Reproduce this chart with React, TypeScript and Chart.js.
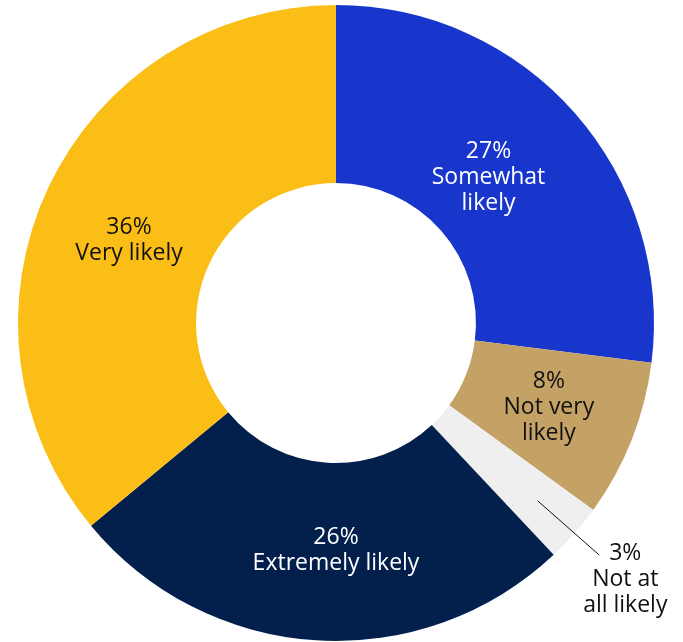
import React, { useEffect, useRef } from "react";
import { Chart, registerables } from "chart.js";

Chart.register(...registerables);

const categories = ["Somewhat likely", "Not very likely", "Not at all likely", "Extremely likely", "Very likely"];
const labelLines = [["27%", "Somewhat", "likely"], ["8%", "Not very", "likely"], ["3%", "Not at", "all likely"], ["26%", "Extremely likely"], ["36%", "Very likely"]];
const values = [27, 8, 3, 26, 36];
const colors = ["#1836cc", "#c4a265", "#efefef", "#031f4c", "#fbbe16"];
const textColors = ["#ffffff", "#111111", "#111111", "#ffffff", "#111111"];
const outside = [false, false, true, false, false];

const FONT = '23px "Open Sans", sans-serif';
const LINE_H = 26;
// label placement tweaks (degrees, px), styling only
const NUDGE = [
  { a: -2.3, r: -18 },
  { a: 0, r: 0 },
  { a: 0, r: 0 },
  { a: -3.6, r: -2 },
  { a: -3.4, r: -6 },
];

const labelPlugin = {
  id: "sliceLabels",
  afterDatasetsDraw(chart: any) {
    const ctx = chart.ctx;
    const meta = chart.getDatasetMeta(0);
    ctx.save();
    ctx.font = FONT;
    ctx.textAlign = "center";
    ctx.textBaseline = "middle";
    meta.data.forEach((arc: any, i: number) => {
      const { x, y, startAngle, endAngle, innerRadius, outerRadius } = arc.getProps(
        ["x", "y", "startAngle", "endAngle", "innerRadius", "outerRadius"],
        true
      );
      const mid = (startAngle + endAngle) / 2 + (NUDGE[i].a * Math.PI) / 180;
      const lines = labelLines[i];
      if (outside[i]) {
        const r1 = outerRadius - 49;
        const r2 = outerRadius + 33;
        const x1 = x + Math.cos(mid) * r1;
        const y1 = y + Math.sin(mid) * r1;
        const x2 = x + Math.cos(mid) * r2;
        const y2 = y + Math.sin(mid) * r2;
        ctx.strokeStyle = "#111111";
        ctx.lineWidth = 1;
        ctx.beginPath();
        ctx.moveTo(x1, y1);
        ctx.lineTo(x2, y2);
        ctx.stroke();
        ctx.fillStyle = textColors[i];
        lines.forEach((t, k) => {
          ctx.fillText(t, x2 + 26, y2 - 2 + k * LINE_H);
        });
      } else {
        const r = (innerRadius + outerRadius) / 2 + NUDGE[i].r;
        const cx = x + Math.cos(mid) * r;
        const cy = y + Math.sin(mid) * r;
        ctx.fillStyle = textColors[i];
        const h = (lines.length - 1) * LINE_H;
        lines.forEach((t, k) => {
          ctx.fillText(t, cx, cy - h / 2 + k * LINE_H);
        });
      }
    });
    ctx.restore();
  },
};

export default function App() {
  const ref = useRef<HTMLCanvasElement>(null);
  useEffect(() => {
    if (!ref.current) return;
    const chart = new Chart(ref.current, {
      type: "doughnut",
      data: {
        labels: categories,
        datasets: [
          {
            data: values,
            backgroundColor: colors,
            borderWidth: 0,
          },
        ],
      },
      options: {
        responsive: false,
        animation: false,
        cutout: "44%",
        layout: { padding: { left: 17, top: 5, right: 28, bottom: 1 } },
        plugins: {
          legend: { display: false },
          tooltip: { enabled: false },
        },
      },
      plugins: [labelPlugin],
    });
    return () => chart.destroy();
  }, []);
  return (
    <div style={{ position: "absolute", left: 0, top: 0, width: 683, height: 642, background: "#ffffff" }}>
      <canvas ref={ref} width={683} height={642} />
    </div>
  );
}
